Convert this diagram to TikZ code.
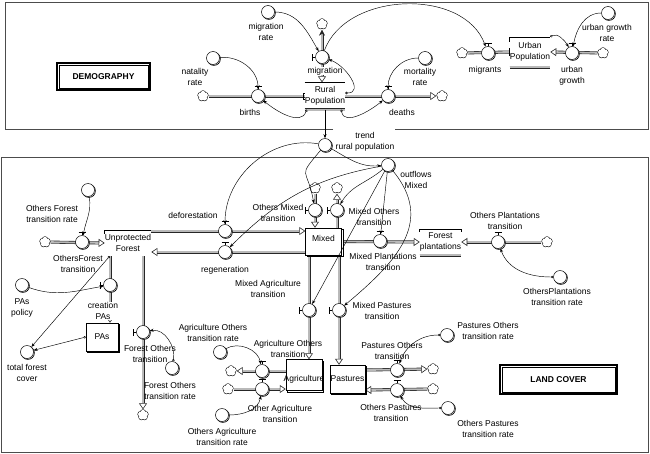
\documentclass[tikz,border=0pt]{standalone}
\usepackage{fontspec}
\setmainfont{Liberation Sans}
\usetikzlibrary{arrows.meta,shadows,calc}
\pgfdeclarelayer{bg}
\pgfsetlayers{bg,main}
\newcommand\hvalve[1]{\draw[line width=0.6pt] ([yshift=0.3pt]#1.north) -- ++(0,2.5pt) ++(-3.5pt,0) -- ++(7pt,0);}
\newcommand\vvalve[1]{\draw[line width=0.6pt] ([xshift=-0.3pt]#1.west) -- ++(-2.5pt,0) ++(0,-3.5pt) -- ++(0,7pt);}
\newcommand\cloudlobes[1]{%
 \foreach \a in {18,90,162,234,306}{\draw[line width=1.1pt] ([shift={(\a:2.6pt)}]#1.center) circle[radius=2.5pt];}%
 \foreach \a in {18,90,162,234,306}{\fill[white] ([shift={(\a:2.6pt)}]#1.center) circle[radius=2.5pt];}%
 \fill[white] (#1.center) circle[radius=2.3pt];}
\begin{document}
\begin{tikzpicture}[x=1pt,y=-1pt,
  font=\fontsize{8.5}{11}\selectfont,
  aux/.style={circle,draw,fill=white,minimum size=13pt,inner sep=0pt,line width=0.5pt,
     general shadow={shadow xshift=0.9pt,shadow yshift=-0.9pt,draw=black,fill=white,line width=0.7pt}},
  valve/.style={aux},
  lbl/.style={align=center,inner sep=0.5pt},
  wlbl/.style={lbl,fill=white},
  cld/.style={circle,minimum size=11pt,inner sep=0pt},
  stockbox/.style={rectangle,draw,fill=white,line width=0.5pt,inner sep=0pt,
     general shadow={shadow xshift=1.5pt,shadow yshift=-1.5pt,draw=black,fill=white,line width=0.5pt}},
  hidstock/.style={rectangle,inner sep=0pt,align=center},
  pipe/.style={draw=black!85,line width=0.6pt,double=gray!55,double distance=1.8pt},
  tipo/.style={-{Triangle[open,length=6pt,width=8pt]}},
  conn/.style={line width=0.45pt,-{Stealth[length=4pt,width=3pt]}},
  oconn/.style={line width=0.45pt,{Circle[open,length=2.4pt,width=2.4pt]}-{Stealth[length=4pt,width=3pt]}},
  frame/.style={draw=black!70,line width=1pt},
  titlebox/.style={draw,line width=1.4pt,inner sep=0pt,font=\fontsize{8.5}{11}\selectfont\bfseries},
]
\useasboundingbox (0,0) rectangle (650,453);

% ---------- frames ----------
\draw[frame] (333,129) -- (5,129) -- (5,2) -- (648,2) -- (648,129) -- (395,129);
\draw[frame] (1,157) rectangle (648,452);

\node[titlebox,minimum width=93pt,minimum height=27pt] (demtitle) at (103.5,76.5) {DEMOGRAPHY};
\draw[line width=0.5pt] ([shift={(2.5pt,-2.5pt)}]demtitle.north west) rectangle ([shift={(-2.5pt,2.5pt)}]demtitle.south east);
\node[titlebox,minimum width=117pt,minimum height=29pt] (lctitle) at (558.5,379.5) {LAND COVER};
\draw[line width=0.5pt] ([shift={(2.5pt,-2.5pt)}]lctitle.north west) rectangle ([shift={(-2.5pt,2.5pt)}]lctitle.south east);

% ---------- demography nodes ----------
\node[cld] (cloudB) at (203,96) {};
\node[valve] (births) at (258,96) {};
\node[hidstock,minimum width=36pt,minimum height=27pt] (rural) at (325,96) {Rural\\Population};
\node[valve] (deaths) at (388,96) {};
\node[cld] (cloudD) at (442,96) {};
\node[valve] (migration) at (322,57) {};
\node[cld] (cloudM) at (322,24) {};
\node[aux] (natrate) at (213,58) {};
\node[aux] (migrate) at (268,12) {};
\node[aux] (mortrate) at (425,58) {};
\node[cld] (cloudMg) at (462,53) {};
\node[valve] (migrants) at (488,53) {};
\node[hidstock,minimum width=37pt,minimum height=30pt] (urban) at (530,52) {Urban\\Population};
\node[valve] (ugrowth) at (572,53) {};
\node[cld] (cloudU) at (603,53) {};
\node[aux] (ugrate) at (608,13) {};
\node[aux] (trend) at (325,145) {};

\node[lbl] at (195,77) {natality\\rate};
\node[lbl] at (266,32) {migration\\rate};
\node[lbl] at (250,112) {births};
\node[wlbl] at (325,71) {migration};
\node[lbl] at (402,112) {deaths};
\node[lbl] at (420,77) {mortality\\rate};
\node[lbl] at (485,70) {migrants};
\node[lbl] at (572,76) {urban\\growth};
\node[lbl] at (607,33) {urban growth\\rate};
\node[lbl] at (365,142) {trend\\rural population};

% ---------- land cover nodes ----------
\node[cld] (cloudOF) at (45,242) {};
\node[valve] (ofvalve) at (82,242) {};
\node[hidstock,minimum width=40pt,minimum height=26pt] (unprot) at (128,243) {Unprotected\\Forest};
\node[valve] (defor) at (225,231) {};
\node[valve] (regen) at (225,252) {};
\node[stockbox,minimum width=36pt,minimum height=27pt] (mixed) at (323.5,241.5) {};
\node at (323.5,238) {Mixed};
\node[valve] (omt) at (315,210) {};
\node[cld] (cloudOMT) at (315,188) {};
\node[valve] (mot) at (337,210) {};
\node[cld] (cloudMOT) at (337,188) {};
\node[aux] (outflows) at (388,165) {};
\node[valve] (mpt) at (380,241) {};
\node[hidstock,minimum width=35pt,minimum height=26pt] (plant) at (440.5,242) {Forest\\plantations};
\node[valve] (opt) at (498,242) {};
\node[cld] (cloudOP) at (547,242) {};
\node[aux] (optrate) at (560,277) {};
\node[valve] (mat) at (309,310) {};
\node[valve] (mpast) at (339,310) {};
\node[stockbox,minimum width=36pt,minimum height=31pt] (agri) at (304,375) {};
\node at (304,379) {Agriculture};
\node[stockbox,minimum width=35pt,minimum height=28pt] (pastures) at (347.5,379) {};
\node at (347.5,379) {Pastures};
\node[valve] (aot) at (262,371) {};
\node[cld] (cloudAOT) at (231,371) {};
\node[aux] (aotrate) at (220,352) {};
\node[valve] (oat) at (262,389) {};
\node[cld] (cloudOAT) at (228,389) {};
\node[aux] (oatrate) at (222,415) {};
\node[valve] (pot) at (397,370) {};
\node[cld] (cloudPOT) at (433,369) {};
\node[aux] (potrate) at (447,335) {};
\node[valve] (opast) at (397,390) {};
\node[cld] (cloudOPA) at (433,389) {};
\node[aux] (opastrate) at (448,408) {};
\node[valve] (fot) at (143,332) {};
\node[cld] (cloudFOT) at (143,415) {};
\node[aux] (fotrate) at (172,368) {};
\node[valve] (cpas) at (110,285) {};
\node[stockbox,minimum width=32pt,minimum height=28pt] (pas) at (102,337) {PAs};
\node[aux] (ofrate) at (88,190) {};
\node[aux] (paspol) at (22,285) {};
\node[aux] (tfc) at (27,352) {};

\node[lbl] at (52,214) {Others Forest\\transition rate};
\node[lbl] at (78,264) {OthersForest\\transition};
\node[lbl] at (193,215) {deforestation};
\node[lbl] at (225,270) {regeneration};
\node[lbl] at (278,213) {Others Mixed\\transition};
\node[lbl] at (374,217) {Mixed Others\\transition};
\node[lbl] at (416,180) {outflows\\Mixed};
\node[lbl] at (383,262) {Mixed Plantations\\transition};
\node[lbl] at (505,221) {Others Plantations\\transition};
\node[lbl] at (557,297) {OthersPlantations\\transition rate};
\node[lbl] at (268,289) {Mixed Agriculture\\transition};
\node[lbl] at (382,311) {Mixed Pastures\\transition};
\node[lbl] at (288,349) {Agriculture Others\\transition};
\node[lbl] at (213,333) {Agriculture Others\\transition rate};
\node[lbl] at (280,414) {Other Agriculture\\transition};
\node[lbl] at (222,437) {Others Agriculture\\transition rate};
\node[lbl] at (392,351) {Pastures Others\\transition};
\node[lbl] at (488,331) {Pastures Others\\transition rate};
\node[lbl] at (391,413) {Others Pastures\\transition};
\node[lbl] at (488,429) {Others Pastures\\transition rate};
\node[lbl] at (150,354) {Forest Others\\transition};
\node[lbl] at (170,391) {Forest Others\\transition rate};
\node[wlbl] at (103,311) {creation\\PAs};
\node[lbl] at (22,308) {PAs\\policy};
\node[lbl] at (27,373) {total forest\\cover};

% ---------- clouds ----------
\cloudlobes{cloudB}\cloudlobes{cloudD}\cloudlobes{cloudM}\cloudlobes{cloudMg}\cloudlobes{cloudU}
\cloudlobes{cloudOF}\cloudlobes{cloudOMT}\cloudlobes{cloudMOT}\cloudlobes{cloudOP}
\cloudlobes{cloudAOT}\cloudlobes{cloudOAT}\cloudlobes{cloudPOT}\cloudlobes{cloudOPA}\cloudlobes{cloudFOT}

% ---------- valve handles ----------
\hvalve{births}\hvalve{deaths}\hvalve{migrants}\hvalve{ugrowth}
\hvalve{ofvalve}\hvalve{defor}\hvalve{regen}\hvalve{mpt}\hvalve{opt}
\hvalve{aot}\hvalve{oat}\hvalve{pot}\hvalve{opast}
\vvalve{migration}\vvalve{omt}\vvalve{mot}\vvalve{mat}\vvalve{mpast}\vvalve{fot}\vvalve{cpas}

% ---------- pipes (background) ----------
\begin{pgfonlayer}{bg}
\draw[pipe] (cloudB) -- (rural.west);
\draw[pipe,tipo] (rural.east) -- (cloudD);
\draw[pipe,{Stealth[length=6pt,width=6pt]}-{Triangle[open,length=6pt,width=8pt]}] (cloudM) -- (migration |- rural.north);
\draw[pipe] (cloudMg) -- (urban.west);
\draw[pipe,tipo] (cloudU) -- (urban.east);
\draw[pipe] (rural.south west) -- (rural.south east);
\draw[pipe] (urban.south west) -- (urban.south east);
\draw[pipe] (plant.south west) -- (plant.south east);

\draw[pipe,tipo] (cloudOF) -- (unprot.west);
\draw[pipe,tipo] (unprot.east |- defor) -- (mixed.west |- defor);
\draw[pipe,tipo] (mixed.west |- regen) -- (unprot.east |- regen);
\draw[pipe,tipo] (cloudOMT) -- (omt |- mixed.north);
\draw[pipe,tipo] (mot |- mixed.north) -- (cloudMOT);
\draw[pipe,tipo] (mixed.east) -- (plant.west);
\draw[pipe,tipo] (cloudOP) -- (plant.east);
\draw[pipe,tipo] (mat |- mixed.south) -- (mat |- agri.north);
\draw[pipe,tipo] (mpast |- mixed.south) -- (mpast |- pastures.north);
\draw[pipe,tipo] (agri.west |- aot) -- (cloudAOT);
\draw[pipe,tipo] (cloudOAT) -- (agri.west |- oat);
\draw[pipe,tipo] (pastures.east |- pot) -- (cloudPOT);
\draw[pipe,tipo] (cloudOPA) -- (pastures.east |- opast);
\draw[pipe,tipo] (fot |- unprot.south) -- (cloudFOT);
\draw[pipe,tipo] (cpas |- unprot.south) -- (cpas |- pas.north);
\end{pgfonlayer}

% stock outlines (partial)
\draw[line width=0.5pt] (rural.north west) -- (rural.north east);
\draw[line width=0.5pt] ([yshift=-3pt]rural.west) -- ([xshift=-1.5pt,yshift=-3pt]rural.west) -- ([xshift=-1.5pt,yshift=3pt]rural.west) -- ([yshift=3pt]rural.west);
\draw[line width=0.5pt] ([yshift=-5pt]urban.north west) -- (urban.north west) -- (urban.north east);
\draw[line width=0.6pt] ([yshift=-4pt]urban.west) -- ([yshift=4pt]urban.west);
\draw[line width=0.5pt] ([yshift=-3pt]plant.north west) -- (plant.north west) -- (plant.north east) -- ([yshift=-3pt]plant.north east);
\draw[line width=0.5pt] ([yshift=-4pt]unprot.north west) -- (unprot.north west) -- (unprot.north east);

% ---------- connectors ----------
\draw[conn] (natrate) to[out=5,in=90] (births);
\draw[oconn] ([xshift=2pt]rural.south west) to[out=-110,in=-40] (births);
\draw[oconn] ([yshift=3pt]rural.east) to[out=0,in=-20,looseness=1.3] (migration);
\draw[oconn] ([xshift=-4pt]rural.south east) to[out=-80,in=-140] (deaths);
\draw[conn] (mortrate) to[out=180,in=90] (deaths);
\draw[conn] (migrate) to[out=0,in=120] (migration);
\draw[conn] (migration) to[out=70,in=110] (migrants);
\draw[conn] (ugrate) to[out=180,in=80] (ugrowth);
\draw[oconn] (urban.north east) to[out=30,in=120] (ugrowth);
\draw[conn] (rural.south) -- (trend);

\draw[conn] (trend) to[out=170,in=90] (defor);
\draw[conn] (trend) to[out=-130,in=100,looseness=1.8] (omt);
\draw[conn] (trend) to[out=-30,in=185] (outflows);
\draw[conn] (outflows) to[out=190,in=45] (regen);
\draw[conn] (outflows) to[out=220,in=60] (mot);
\draw[conn] (outflows) -- (mat);
\draw[conn] (outflows) -- (mpt);
\draw[conn] (outflows) to[out=-50,in=40,looseness=1.2] (mpast);
\draw[conn] (ofrate) to[out=-80,in=80] (ofvalve);
\draw[conn] (paspol) to[out=-20,in=190] (cpas);
\draw[oconn] ([xshift=5pt]unprot.south west) -- (tfc);
\draw[oconn] (pas.west) -- (tfc);
\draw[oconn] (fotrate) to[out=80,in=10] (fot);
\draw[oconn] (optrate) to[out=180,in=-70] (opt);
\draw[conn] (aotrate) to[out=30,in=100] (aot);
\draw[conn] (oatrate) to[out=0,in=-100] (oat);
\draw[oconn] (potrate) to[out=180,in=70] (pot);
\draw[oconn] (opastrate) to[out=180,in=-60] (opast);
\end{tikzpicture}
\end{document}
